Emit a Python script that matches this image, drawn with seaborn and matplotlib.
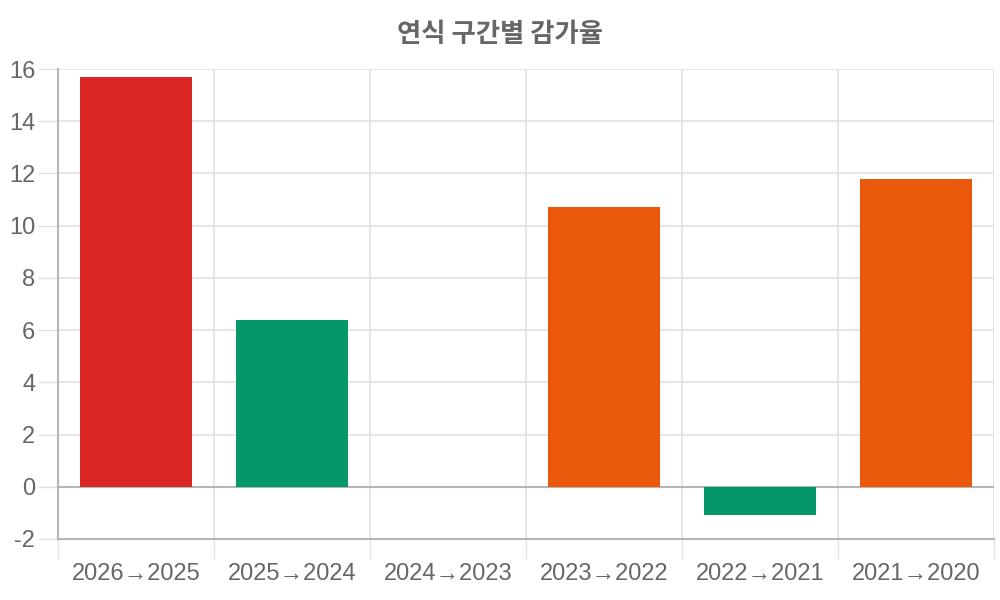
import matplotlib
matplotlib.use("Agg")
import matplotlib.pyplot as plt
import seaborn as sns
import numpy as np

categories = ["2026→2025", "2025→2024", "2024→2023", "2023→2022", "2022→2021", "2021→2020"]
values = [15.7, 6.4, 0.0, 10.7, -1.1, 11.8]
bar_colors = ["#DC2626", "#059669", "#059669", "#EA580C", "#059669", "#EA580C"]
y_ticks = [-2, 0, 2, 4, 6, 8, 10, 12, 14, 16]
title = "연식 구간별 감가율"

sns.set_theme(style="white")
plt.rcParams['font.family'] = ['Liberation Sans', 'Noto Sans CJK KR', 'DejaVu Sans']

fig = plt.figure(figsize=(10, 6), dpi=100)
ax = fig.add_axes([0.058, 0.1017, 0.936, 0.7833])

sns.barplot(x=categories, y=values, hue=categories, palette=bar_colors,
            width=0.72, legend=False, ax=ax, saturation=1, zorder=3, linewidth=0)

grid_c = "#e3e3e3"
axis_c = "#b5b5b5"
text_c = "#666666"

ax.set_xlim(-0.5, len(categories) - 0.5)
ax.set_ylim(-2, 16)
ax.set_yticks(y_ticks)
ax.set_yticklabels([str(t) for t in y_ticks])
for y in y_ticks:
    if y in (0, -2):
        continue
    ax.axhline(y, color=grid_c, lw=1.3, zorder=1)
ax.axhline(0, color=axis_c, lw=1.5, zorder=2)

bounds = np.arange(-0.5, len(categories), 1.0)
ax.set_xticks(bounds)
ax.set_xticklabels([""] * len(bounds))
ax.set_xticks(np.arange(len(categories)), minor=True)
ax.set_xticklabels(categories, minor=True)
for b in bounds[1:]:
    ax.axvline(b, color=grid_c, lw=1.3, zorder=1)

ax.tick_params(axis="x", which="major", length=14.4, width=1.0, color=grid_c, direction="out", bottom=True)
ax.tick_params(axis="x", which="minor", length=0, labelsize=17, labelcolor=text_c, pad=17, bottom=True)
ax.tick_params(axis="y", length=14.4, width=1.0, color=grid_c, labelsize=17, labelcolor=text_c, pad=2, left=True)

for s in ["top", "right"]:
    ax.spines[s].set_visible(False)
for s in ["left", "bottom"]:
    ax.spines[s].set_color(axis_c)
    ax.spines[s].set_linewidth(1.5)
ax.spines["left"].set_bounds(-2, 16)
ax.set_xlabel("")
ax.set_ylabel("")

fig.text(0.5, 0.942, title, ha="center", va="center", fontsize=19, fontweight="bold",
         color=text_c, family=['Noto Sans CJK KR', 'DejaVu Sans'])

fig.savefig("out.png", dpi=100)
